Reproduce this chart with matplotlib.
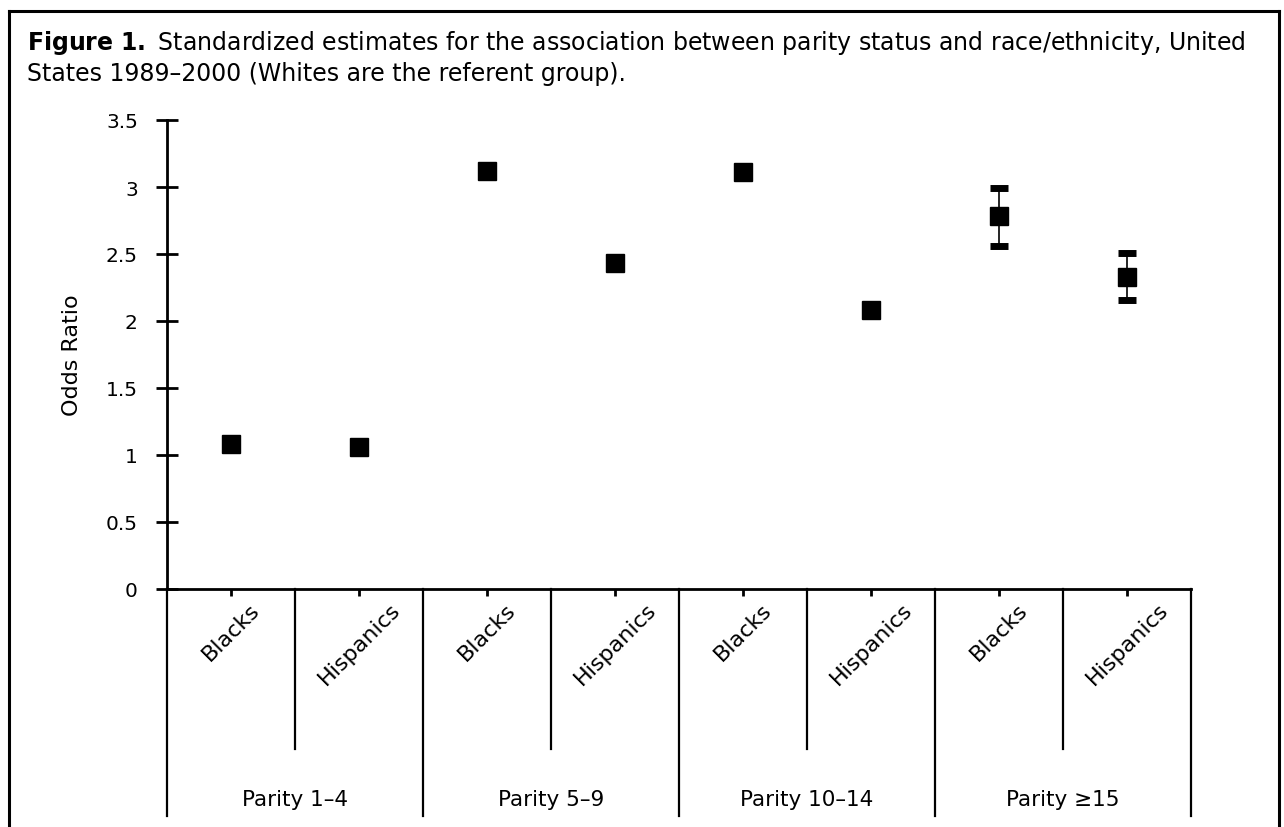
import numpy as np
import matplotlib.pyplot as plt
from matplotlib.lines import Line2D
import matplotlib.transforms as mtransforms

# ====== data ======
categories = ["Blacks", "Hispanics", "Blacks", "Hispanics",
              "Blacks", "Hispanics", "Blacks", "Hispanics"]
groups = ["Parity 1\u20134", "Parity 5\u20139", "Parity 10\u201314", "Parity \u226515"]
odds_ratio = [1.08, 1.06, 3.12, 2.43, 3.11, 2.08, 2.78, 2.33]
ci_lower = [np.nan, np.nan, np.nan, np.nan, np.nan, np.nan, 2.56, 2.16]
ci_upper = [np.nan, np.nan, np.nan, np.nan, np.nan, np.nan, 2.99, 2.51]
yticks = [0, 0.5, 1, 1.5, 2, 2.5, 3, 3.5]
ytick_labels = ["0", "0.5", "1", "1.5", "2", "2.5", "3", "3.5"]

plt.rcParams["font.family"] = ["DejaVu Sans"]
plt.rcParams["mathtext.fontset"] = "dejavusans"

W, H = 1284, 828
fig = plt.figure(figsize=(W / 100, H / 100), dpi=100)
ax = fig.add_axes([167 / W, 1 - 590 / H, (1191 - 167) / W, (590 - 121) / H])

x = np.arange(len(categories))
ax.plot(x, odds_ratio, "s", color="black", markersize=13, zorder=3)

# error bars where the interval is visible
has_ci = ~np.isnan(ci_lower)
xe = x[has_ci]
ye = np.array(odds_ratio)[has_ci]
yerr = [ye - np.array(ci_lower)[has_ci], np.array(ci_upper)[has_ci] - ye]
ax.errorbar(xe, ye, yerr=yerr, fmt="none", ecolor="black", elinewidth=1.2,
            capsize=6.5, capthick=5, zorder=2)

ax.set_xlim(-0.5, len(categories) - 0.5)
ax.set_ylim(0, 3.5)

ax.spines["top"].set_visible(False)
ax.spines["right"].set_visible(False)
ax.spines["left"].set_linewidth(2)
ax.spines["bottom"].set_linewidth(2)

ax.set_yticks(yticks)
ax.set_yticklabels(ytick_labels)
ax.tick_params(axis="y", direction="inout", length=16, width=2, pad=13, labelsize=14.5)
ax.set_xticks(x)
ax.set_xticklabels(categories, rotation=45, ha="center", fontsize=16)
ax.tick_params(axis="x", direction="out", length=5, width=2, pad=2)

ax.set_ylabel("Odds Ratio", fontsize=16)
ax.yaxis.set_label_coords((82 - 167) / 1024, 0.5)

# category separators below the axis
trans = mtransforms.blended_transform_factory(ax.transData, ax.transAxes)
for k in range(len(categories) + 1):
    xb = k - 0.5
    bottom = -0.484 if k % 2 == 0 else -0.341
    ax.plot([xb, xb], [0, bottom], color="black", linewidth=1.6,
            transform=trans, clip_on=False)

for g, name in enumerate(groups):
    ax.text(2 * g + 0.5, -0.448, name, transform=trans, ha="center", va="center",
            fontsize=15.5)

# title
fig.text(27 / W, 1 - 29 / H,
         r"$\bf{Figure\ 1.}$ Standardized estimates for the association between parity status and race/ethnicity, United"
         "\nStates 1989\u20132000 (Whites are the referent group).",
         ha="left", va="top", fontsize=17, linespacing=1.25,
         transform=fig.transFigure)

# frame around the figure
for xs, ys in [([9, 1279], [12, 12]), ([9, 9], [12, 830]), ([1279, 1279], [12, 830])]:
    fig.add_artist(Line2D([v / W for v in xs], [1 - v / H for v in ys],
                          color="black", linewidth=2.2))

fig.savefig("out.png", dpi=100)
